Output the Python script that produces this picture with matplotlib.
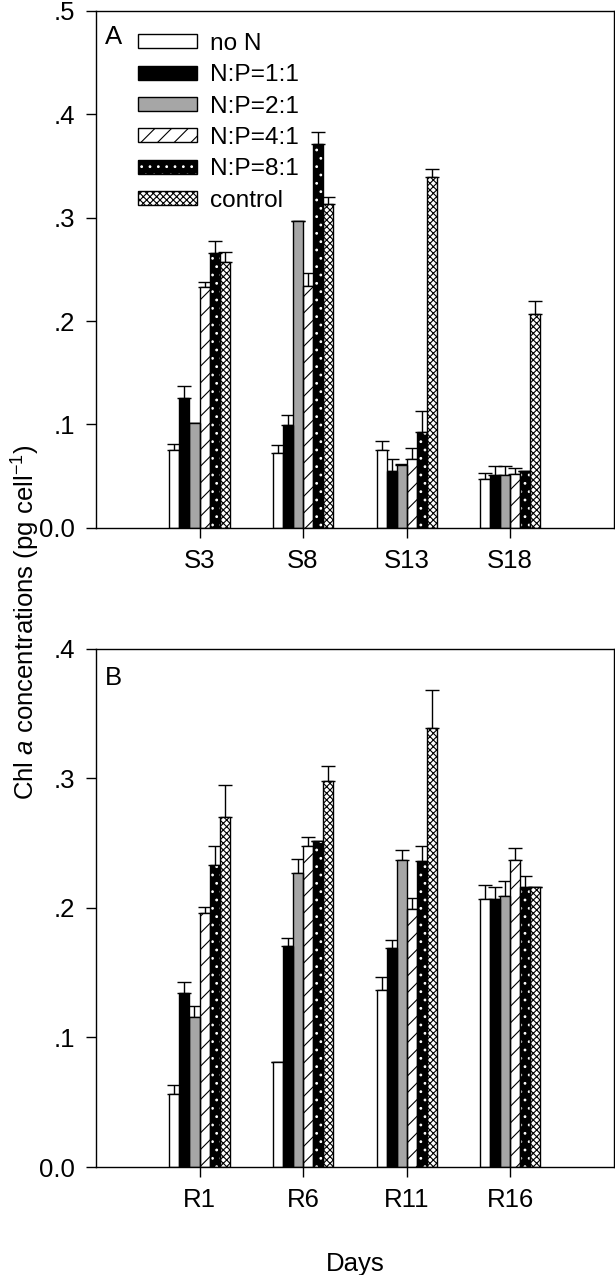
import numpy as np
import matplotlib.pyplot as plt
from matplotlib.patches import Patch
from matplotlib.ticker import FuncFormatter

plt.rcParams['font.family'] = ['Liberation Sans', 'DejaVu Sans']
plt.rcParams['hatch.linewidth'] = 0.8
plt.rcParams['mathtext.fontset'] = 'custom'
plt.rcParams['mathtext.it'] = 'Liberation Sans:italic'
plt.rcParams['mathtext.rm'] = 'Liberation Sans'

# data

series = ['no N', 'N:P=1:1', 'N:P=2:1', 'N:P=4:1', 'N:P=8:1', 'control']

days_a = ['S3', 'S8', 'S13', 'S18']
mean_a = [
    [0.075, 0.072, 0.075, 0.047],   # no N
    [0.126, 0.099, 0.055, 0.051],   # 1:1
    [0.101, 0.297, 0.061, 0.051],   # 2:1
    [0.233, 0.234, 0.067, 0.052],   # 4:1
    [0.266, 0.371, 0.093, 0.055],   # 8:1
    [0.257, 0.313, 0.339, 0.207],   # control
]
err_a = [
    [0.006, 0.008, 0.009, 0.0065],
    [0.011, 0.010, 0.012, 0.009],
    [0.000, 0.000, 0.001, 0.009],
    [0.005, 0.012, 0.010, 0.006],
    [0.011, 0.012, 0.020, 0.000],
    [0.010, 0.0065, 0.008, 0.012],
]

days_b = ['R1', 'R6', 'R11', 'R16']
mean_b = [
    [0.056, 0.081, 0.137, 0.207],
    [0.134, 0.171, 0.169, 0.207],
    [0.116, 0.227, 0.237, 0.209],
    [0.196, 0.248, 0.199, 0.237],
    [0.233, 0.252, 0.236, 0.216],
    [0.270, 0.298, 0.339, 0.216],
]
err_b = [
    [0.007, 0.000, 0.010, 0.011],
    [0.009, 0.006, 0.006, 0.0095],
    [0.008, 0.011, 0.008, 0.012],
    [0.005, 0.007, 0.009, 0.0095],
    [0.015, 0.000, 0.012, 0.009],
    [0.025, 0.012, 0.029, 0.000],
]

# styles: (face, hatch colour, hatch)
styles = [
    ('white', 'black', None),
    ('black', 'black', None),
    ('#a6a6a6', 'black', None),
    ('white', 'black', '//'),
    ('black', 'white', '..'),
    ('white', 'black', 'xxxxx'),
]

w = 0.097


def draw_panel(ax, days, means, errs, ymax, letter, letter_y, legend=False):
    x = np.arange(1, len(days) + 1)
    handles = []
    for i, (m, e) in enumerate(zip(means, errs)):
        face, hcol, hatch = styles[i]
        pos = x + (i - 2.5) * w
        ax.bar(pos, m, w, color=face, edgecolor=hcol, hatch=hatch, linewidth=0, zorder=2)
        ax.bar(pos, m, w, fill=False, edgecolor='black', linewidth=1.0, zorder=3)
        ax.errorbar(pos, m, yerr=[np.zeros(len(m)), e], fmt='none', ecolor='black',
                    elinewidth=1.0, capsize=4.7, capthick=1.0, zorder=1)
        handles.append((Patch(facecolor=face, edgecolor=hcol, hatch=hatch, linewidth=0),
                        Patch(fill=False, edgecolor='black', linewidth=1.0)))
    ax.set_xlim(0, 5)
    ax.set_ylim(0, ymax)
    ax.set_xticks(x)
    ax.set_xticklabels(days)
    ax.set_yticks(np.arange(0, ymax + 0.001, 0.1))
    ax.yaxis.set_major_formatter(FuncFormatter(lambda v, p: '0.0' if abs(v) < 1e-9 else ('%.1f' % v)[1:]))
    ax.tick_params(direction='out', length=7, width=1, labelsize=18.5, pad=8)
    for s in ax.spines.values():
        s.set_linewidth(1.0)
    ax.text(0.018, letter_y, letter, transform=ax.transAxes, fontsize=18.5, va='top', ha='left')
    if legend:
        ax.legend(handles, series, loc='upper left', bbox_to_anchor=(0.081, 0.957),
                  frameon=False, fontsize=17.6, handlelength=2.4, handleheight=0.5,
                  handletextpad=0.55, labelspacing=0.38, borderpad=0, borderaxespad=0)


fig = plt.figure(figsize=(6.15, 12.75), dpi=100)
ax1 = fig.add_axes([0.156, 0.586, 0.842, 0.4055])
ax2 = fig.add_axes([0.156, 0.0847, 0.842, 0.4063])

draw_panel(ax1, days_a, mean_a, err_a, 0.5, 'A', 0.972, legend=True)
draw_panel(ax2, days_b, mean_b, err_b, 0.4, 'B', 0.968)

ax2.set_xlabel('Days', fontsize=18.5, labelpad=29)
fig.text(0.042, 0.512, 'Chl $a$ concentrations (pg cell$^{-1}$)', rotation=90,
         ha='center', va='center', fontsize=18.5)

fig.savefig('out.png', dpi=100)
